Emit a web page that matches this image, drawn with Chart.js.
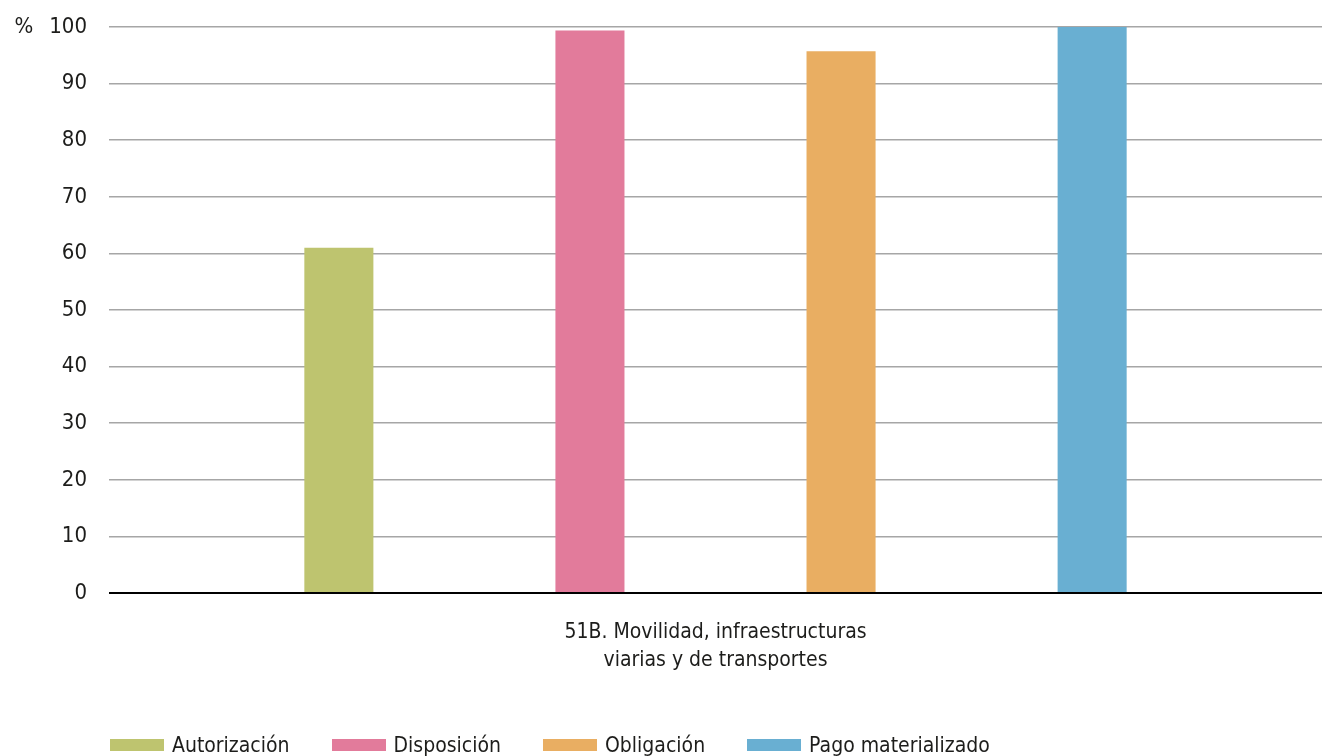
<!DOCTYPE html>
<html>
<head>
<meta charset="utf-8">
<script src="https://cdn.jsdelivr.net/npm/chart.js@4/dist/chart.umd.min.js"></script>
<style>
  html, body { margin: 0; padding: 0; background: #fff; }
  #wrap { position: relative; width: 1322px; height: 756px; }
  #legend {
    position: absolute; left: 110px; top: 733px;
    display: flex; align-items: center;
    font-family: "Liberation Sans Narrow", "DejaVu Sans Condensed", Roboto, sans-serif;
    font-size: 21px; color: #1d1d1b; white-space: nowrap;
  }
  #legend .item { display: flex; align-items: center; margin-right: 42px; }
  #legend .box { width: 54px; height: 12px; margin-right: 8px; }
</style>
</head>
<body>
<div id="wrap">
  <canvas id="chart" width="1322" height="756"></canvas>
  <div id="legend"></div>
</div>
<script>
/* DATA */
const categories = [["51B. Movilidad, infraestructuras", "viarias y de transportes"]];
const seriesNames = ["Autorización", "Disposición", "Obligación", "Pago materializado"];
const autorizacion = [61];
const disposicion = [99.4];
const obligacion = [95.7];
const pago = [100];
const yTicks = [0, 10, 20, 30, 40, 50, 60, 70, 80, 90, 100];

const colors = ["#bec46f", "#e27b9b", "#e9ae62", "#69afd2"];
const FONT = "'Liberation Sans Narrow', 'DejaVu Sans Condensed', Roboto, sans-serif";
const INK = "#1d1d1b";

/* "%" next to the top tick */
const percentSign = {
  id: "percentSign",
  afterDraw(chart) {
    const y = chart.scales.y.getPixelForValue(100);
    const ctx = chart.ctx;
    ctx.save();
    ctx.font = "22px " + FONT;
    ctx.fillStyle = INK;
    ctx.textAlign = "center";
    ctx.textBaseline = "middle";
    ctx.fillText("%", 24, y);
    ctx.restore();
  },
};

const values = [autorizacion, disposicion, obligacion, pago];

new Chart(document.getElementById("chart"), {
  type: "bar",
  data: {
    labels: categories,
    datasets: seriesNames.map((name, i) => ({
      label: name,
      data: values[i],
      backgroundColor: colors[i],
      categoryPercentage: 0.828,
      barPercentage: 0.275,
    })),
  },
  options: {
    responsive: false,
    animation: false,
    layout: { padding: { top: 27, right: 0, bottom: 0, left: 0 } },
    plugins: { legend: { display: false }, tooltip: { enabled: false } },
    scales: {
      x: {
        grid: { display: false },
        border: { display: false },
        ticks: {
          color: INK,
          padding: 18,
          font: { family: FONT, size: 21, lineHeight: 1.33 },
        },
        afterFit: (s) => { s.height = 163; },
      },
      y: {
        min: 0,
        max: 100,
        afterBuildTicks: (s) => { s.ticks = yTicks.map((v) => ({ value: v })); },
        border: { display: false },
        grid: {
          drawTicks: false,
          color: (c) => (c.tick && c.tick.value === 0 ? "#000" : "#a6a6a6"),
          lineWidth: (c) => (c.tick && c.tick.value === 0 ? 2 : 1.5),
        },
        ticks: {
          color: INK,
          padding: 22,
          font: { family: FONT, size: 22 },
        },
        afterFit: (s) => {
          s.width = 109;
          s.paddingTop = 0;
        },
      },
    },
  },
  plugins: [percentSign],
});

/* LEGEND */
const legend = document.getElementById("legend");
seriesNames.forEach((name, i) => {
  const item = document.createElement("div");
  item.className = "item";
  item.innerHTML = `<span class="box" style="background:${colors[i]}"></span><span>${name}</span>`;
  legend.appendChild(item);
});
</script>
</body>
</html>
